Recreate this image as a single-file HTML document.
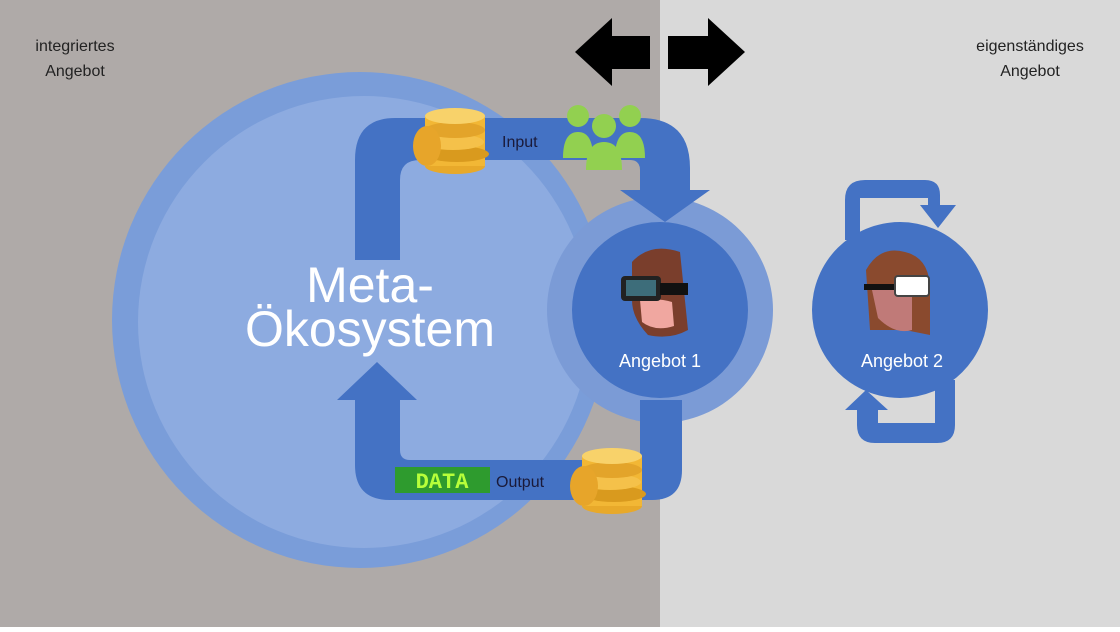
<!DOCTYPE html>
<html><head><meta charset="utf-8"><style>
body{margin:0;width:1120px;height:627px;overflow:hidden;font-family:"Liberation Sans",sans-serif}
</style></head><body>
<svg width="1120" height="627" viewBox="0 0 1120 627" xmlns="http://www.w3.org/2000/svg">
<defs>
<g id="coins">
 <ellipse cx="0" cy="0" rx="30" ry="8" fill="#e8a92a"/>
 <rect x="-30" y="-50" width="60" height="50" fill="#f2b735"/>
 <ellipse cx="2" cy="-12" rx="32" ry="8" fill="#d99a1e"/>
 <ellipse cx="-2" cy="-24" rx="31" ry="8" fill="#f5c14a"/>
 <ellipse cx="0" cy="-36" rx="30" ry="8" fill="#e3a42a"/>
 <ellipse cx="0" cy="-50" rx="30" ry="8" fill="#f8d26a"/>
 <ellipse cx="-28" cy="-20" rx="14" ry="20" fill="#e7a52a"/>
</g>
</defs>
<rect x="0" y="0" width="660" height="627" fill="#afaaa8"/>
<rect x="660" y="0" width="460" height="627" fill="#d9d9d9"/>

<circle cx="360" cy="320" r="248" fill="#7a9dd9"/>
<circle cx="364" cy="322" r="226" fill="#8dabe0"/>
<circle cx="660" cy="310" r="113" fill="#7b9bd6"/>
<circle cx="660" cy="310" r="88" fill="#4472c4"/>

<path d="M355 260 V160 Q355 118 395 118 H640 Q690 118 690 168 V190 H710 L665 222 L620 190 H640 V170 Q640 160 630 160 H420 Q400 160 400 180 V260 Z" fill="#4472c4"/>
<path d="M400 400 V450 Q400 460 410 460 H640 V400 H682 V470 Q682 500 652 500 H390 Q355 500 355 465 V400 H337 L377 362 L417 400 Z" fill="#4472c4"/>

<path d="M845 240 V200 Q845 180 865 180 H925 Q940 180 940 195 V205 H956 L938 228 L920 205 H928 V198 H860 V240 Z" fill="#4472c4"/>
<circle cx="900" cy="310" r="88" fill="#4472c4"/>
<path d="M955 380 V425 Q955 443 937 443 H875 Q857 443 857 425 V410 H845 L866 390 L888 410 H878 V423 H935 V380 Z" fill="#4472c4"/>

<path d="M575 52 L612 18 V36 H650 V69 H612 V86 Z" fill="#000"/>
<path d="M745 52 L708 18 V36 H668 V69 H708 V86 Z" fill="#000"/>

<use href="#coins" transform="translate(455,166)"/>
<use href="#coins" transform="translate(612,506)"/>

<g fill="#92d050">
 <circle cx="578" cy="116" r="11"/><path d="M563 158 Q563 132 578 132 Q593 132 593 158 Z"/>
 <circle cx="630" cy="116" r="11"/><path d="M615 158 Q615 132 630 132 Q645 132 645 158 Z"/>
 <circle cx="604" cy="126" r="12"/><path d="M586 170 Q586 142 604 142 Q622 142 622 170 Z"/>
</g>

<rect x="395" y="467" width="95" height="26" fill="#2e9b2e"/>
<text x="442" y="488" font-size="22" font-weight="bold" fill="#b7ff3a" text-anchor="middle" font-family="Liberation Mono,monospace">DATA</text>

<path d="M632 262 Q650 242 680 252 L688 330 Q670 340 648 335 Q632 318 632 300 Z" fill="#7a3e2c"/>
<path d="M640 300 Q660 298 672 302 L674 326 Q655 332 642 322 Z" fill="#f0a7a0"/>
<rect x="621" y="276" width="40" height="25" rx="4" fill="#222"/>
<rect x="626" y="280" width="30" height="16" fill="#3d6d7a"/>
<rect x="660" y="283" width="28" height="12" fill="#111"/>
<path d="M866 270 Q880 245 905 252 Q930 258 930 290 L930 335 L905 330 L870 330 Z" fill="#8a4a2e"/>
<path d="M872 290 L912 290 L912 330 Q895 335 878 318 Z" fill="#c07a78"/>
<rect x="864" y="284" width="32" height="6" fill="#111"/>
<rect x="895" y="276" width="34" height="20" rx="3" fill="#fff" stroke="#444" stroke-width="2"/>

<g font-family="Liberation Sans, sans-serif">
<text x="75" y="51" font-size="16" fill="#222" text-anchor="middle">integriertes</text>
<text x="75" y="76" font-size="16" fill="#222" text-anchor="middle">Angebot</text>
<text x="1030" y="51" font-size="16" fill="#222" text-anchor="middle">eigenständiges</text>
<text x="1030" y="76" font-size="16" fill="#222" text-anchor="middle">Angebot</text>
<text x="370" y="302" font-size="50" fill="#fff" text-anchor="middle">Meta-</text>
<text x="370" y="346" font-size="50" fill="#fff" text-anchor="middle">Ökosystem</text>
<text x="660" y="367" font-size="18" fill="#fff" text-anchor="middle">Angebot 1</text>
<text x="902" y="367" font-size="18" fill="#fff" text-anchor="middle">Angebot 2</text>
<text x="502" y="147" font-size="16" fill="#1a1a3a">Input</text>
<text x="496" y="487" font-size="16" fill="#1a1a3a">Output</text>
</g>
</svg>
</body></html>
